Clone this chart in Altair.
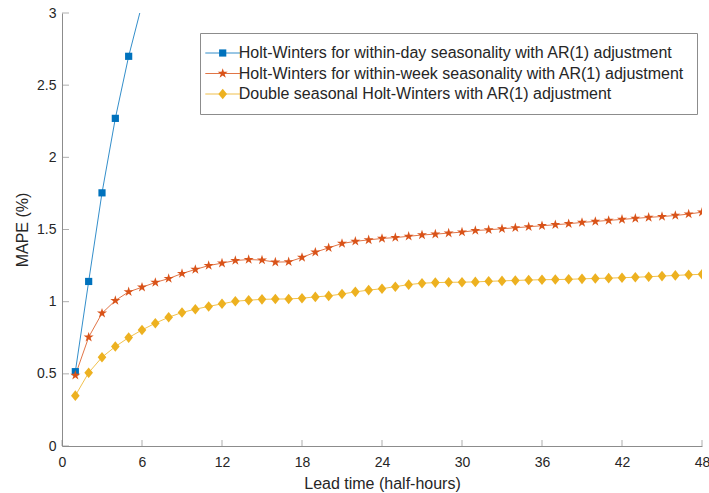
import altair as alt
import numpy as np
import pandas as pd

# ---------------- data ----------------
lead_time = list(range(1, 49))

hw_day = [0.515, 1.14, 1.754, 2.27, 2.70, 3.06]

hw_week = [0.49, 0.754, 0.92, 1.008, 1.068, 1.10, 1.133, 1.16, 1.195, 1.223,
           1.25, 1.267, 1.285, 1.292, 1.288, 1.274, 1.276, 1.306, 1.343, 1.373,
           1.403, 1.418, 1.428, 1.438, 1.444, 1.453, 1.462, 1.468, 1.475, 1.482,
           1.493, 1.498, 1.505, 1.512, 1.519, 1.526, 1.533, 1.540, 1.549, 1.556,
           1.563, 1.570, 1.577, 1.584, 1.590, 1.597, 1.607, 1.620]

dshw = [0.349, 0.508, 0.615, 0.689, 0.751, 0.804, 0.851, 0.892, 0.925, 0.948,
        0.967, 0.985, 1.003, 1.010, 1.016, 1.018, 1.019, 1.024, 1.033, 1.040,
        1.053, 1.068, 1.080, 1.090, 1.104, 1.118, 1.128, 1.132, 1.134, 1.135,
        1.137, 1.141, 1.144, 1.147, 1.150, 1.152, 1.153, 1.155, 1.158, 1.161,
        1.163, 1.166, 1.169, 1.173, 1.177, 1.182, 1.186, 1.190]

series_names = [
    "Holt-Winters for within-day seasonality with AR(1) adjustment",
    "Holt-Winters for within-week seasonality with AR(1) adjustment",
    "Double seasonal Holt-Winters with AR(1) adjustment",
]
series_colors = ["#0072BD", "#D95319", "#EDB120"]

x_ticks = [0, 6, 12, 18, 24, 30, 36, 42, 48]
y_ticks = [0, 0.5, 1, 1.5, 2, 2.5, 3]

# ---------------- build table ----------------
rows = []
for name, vals in zip(series_names, [hw_day, hw_week, dshw]):
    for x, v in zip(lead_time, vals):
        rows.append({"lead": x, "mape": v, "series": name})
df = pd.DataFrame(rows)

# ---------------- marker shapes (style) ----------------
def star_path(R=0.88, ratio=0.382):
    pts = []
    for k in range(10):
        ang = -np.pi / 2 + k * np.pi / 5
        r = R if k % 2 == 0 else R * ratio
        pts.append((r * np.cos(ang), r * np.sin(ang)))
    return "M" + "L".join(f"{a:.3f},{b:.3f}" for a, b in pts) + "Z"

square_path = "M-0.6,-0.6L0.6,-0.6L0.6,0.6L-0.6,0.6Z"
diamond_path = "M0,-0.88L0.72,0L0,0.88L-0.72,0Z"
shapes = [square_path, star_path(), diamond_path]

FONT = "Liberation Sans"
TXT = "#262626"
AX = "#8c8c8c"

x_scale = alt.Scale(domain=[0, 48], nice=False, zero=False)
y_scale = alt.Scale(domain=[0, 3], nice=False)

legend_common = dict(
    orient="none", legendX=138, legendY=20, title=None,
    symbolSize=144, labelFontSize=16, labelFont=FONT, labelLimit=1000,
    labelOffset=8, symbolOffset=2.7, padding=12, rowPadding=4.5,
)

x_enc = alt.X("lead:Q", scale=x_scale,
              axis=alt.Axis(values=x_ticks, title="Lead time (half-hours)",
                            labelPadding=9, titlePadding=6))
y_enc = alt.Y("mape:Q", scale=y_scale,
              axis=alt.Axis(values=y_ticks, labelExpr="'' + datum.value",
                            title="MAPE (%)", labelPadding=6, titlePadding=6))

lines = alt.Chart(df).mark_line(strokeWidth=1, opacity=0.8, clip=True).encode(
    x=x_enc, y=y_enc,
    color=alt.Color("series:N",
                    scale=alt.Scale(domain=series_names, range=series_colors),
                    legend=alt.Legend(symbolType="M-2.9,0L2.9,0", symbolStrokeWidth=1,
                                      labelColor=TXT, strokeColor=AX,
                                      **legend_common)),
    detail="series:N",
)

pt_legend = alt.Legend(labelOpacity=0, symbolStrokeWidth=0, **legend_common)
points = alt.Chart(df).mark_point(filled=True, size=144, opacity=1, clip=True).encode(
    x="lead:Q", y="mape:Q",
    fill=alt.Fill("series:N",
                  scale=alt.Scale(domain=series_names, range=series_colors),
                  legend=pt_legend),
    shape=alt.Shape("series:N",
                    scale=alt.Scale(domain=series_names, range=shapes),
                    legend=pt_legend),
)

xt = alt.Chart(pd.DataFrame({"lead": x_ticks})).mark_tick(
    orient="vertical", size=6, thickness=1, yOffset=-3, color=AX
).encode(x="lead:Q", y=alt.datum(0))

yt = alt.Chart(pd.DataFrame({"mape": y_ticks})).mark_tick(
    orient="horizontal", size=7, thickness=1, xOffset=3.5, color=AX
).encode(y="mape:Q", x=alt.datum(0))

chart = alt.layer(lines, points, xt, yt).resolve_legend(
    color="independent", fill="independent", shape="independent"
).properties(
    width=640, height=433,
    autosize=alt.AutoSizeParams(type="none"),
    padding={"left": 62, "top": 13, "right": 7, "bottom": 47},
    background="white",
).configure_view(stroke=None).configure_axis(
    grid=False, ticks=False, tickSize=0, domainColor=AX, domainWidth=1,
    labelFont=FONT, labelFontSize=14, labelColor=TXT, labelFlush=False,
    titleFont=FONT, titleFontSize=16, titleFontWeight="normal", titleColor=TXT,
)

chart.save("out.html", embed_options={"renderer": "svg", "actions": False})
